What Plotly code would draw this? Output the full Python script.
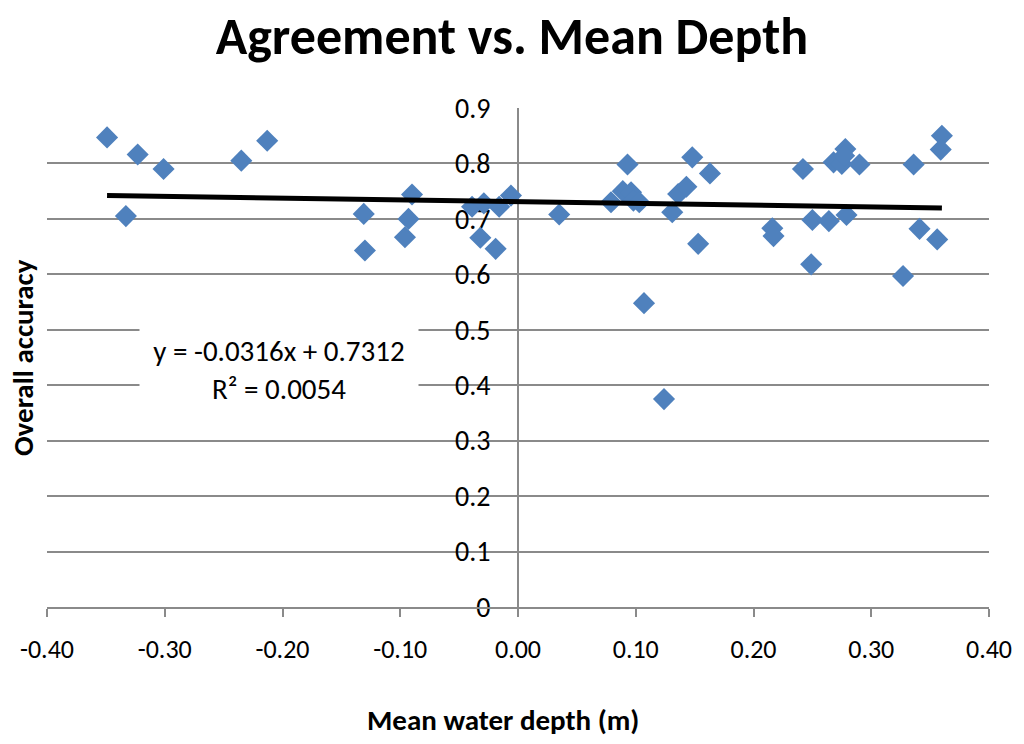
import plotly.graph_objects as go

# ── data ──────────────────────────────────────────────
depth = [
    -0.349, -0.323, -0.301, -0.333, -0.235, -0.213,
    -0.131, -0.130, -0.090, -0.093, -0.096,
    -0.039, -0.029, -0.032, -0.019, -0.016, -0.006, 0.035,
    0.093, 0.079, 0.089, 0.096, 0.098, 0.103, 0.107, 0.124,
    0.131, 0.136, 0.143, 0.148, 0.163, 0.153,
    0.216, 0.217, 0.242, 0.250, 0.249, 0.264, 0.268, 0.275,
    0.278, 0.277, 0.279, 0.290, 0.327, 0.336, 0.341, 0.356,
    0.360, 0.359,
]
accuracy = [
    0.847, 0.816, 0.790, 0.705, 0.805, 0.841,
    0.709, 0.643, 0.744, 0.700, 0.667,
    0.722, 0.728, 0.666, 0.646, 0.722, 0.742, 0.708,
    0.798, 0.730, 0.750, 0.748, 0.733, 0.730, 0.548, 0.375,
    0.712, 0.745, 0.758, 0.811, 0.782, 0.655,
    0.683, 0.669, 0.790, 0.698, 0.618, 0.696, 0.802, 0.799,
    0.826, 0.814, 0.707, 0.798, 0.597, 0.798, 0.682, 0.663,
    0.850, 0.825,
]
trend_slope = -0.0316
trend_intercept = 0.7312
r_squared = 0.0054

x_ticks = [-0.4, -0.3, -0.2, -0.1, 0.0, 0.1, 0.2, 0.3, 0.4]
x_ticktext = ["-0.40", "-0.30", "-0.20", "-0.10", "0.00", "0.10", "0.20", "0.30", "0.40"]
y_ticks = [0, 0.1, 0.2, 0.3, 0.4, 0.5, 0.6, 0.7, 0.8, 0.9]
y_ticktext = ["0", "0.1", "0.2", "0.3", "0.4", "0.5", "0.6", "0.7", "0.8", "0.9"]

FONT = "Carlito, Lato, sans-serif"
BLUE = "#4F81BD"
GRID = "#8a8a8a"

# ── trendline from the fitted coefficients ────────────
trend_x = [min(depth), max(depth)]
trend_y = [trend_slope * v + trend_intercept for v in trend_x]

fig = go.Figure()

fig.add_trace(go.Scatter(
    x=depth, y=accuracy,
    mode="markers",
    marker=dict(symbol="diamond", size=17, color=BLUE, line=dict(width=0)),
    showlegend=False,
))

fig.add_trace(go.Scatter(
    x=trend_x, y=trend_y,
    mode="lines",
    line=dict(color="black", width=5),
    showlegend=False,
))

# ── axes ──────────────────────────────────────────────
fig.update_xaxes(
    range=[-0.4, 0.4],
    tickvals=x_ticks,
    ticktext=x_ticktext,
    showgrid=False,
    zeroline=False,
    showline=True,
    linecolor=GRID,
    linewidth=2,
    ticks="outside",
    ticklen=8,
    tickwidth=2,
    tickcolor=GRID,
    ticklabelstandoff=10,
    tickfont=dict(family=FONT, size=26, color="black"),
)
fig.update_yaxes(
    range=[0, 0.9],
    tickvals=y_ticks,
    ticktext=y_ticktext,
    anchor="free",
    position=0.5,
    showgrid=True,
    gridcolor=GRID,
    gridwidth=2,
    zeroline=False,
    showline=True,
    linecolor=GRID,
    linewidth=2,
    ticks="",
    ticklabelstandoff=21,
    layer="below traces",
    tickfont=dict(family=FONT, size=28, color="black"),
)

# ── labels ────────────────────────────────────────────
fig.add_annotation(
    text=f"y = {trend_slope}x + {trend_intercept}<br>R² = {r_squared}",
    xref="paper", yref="paper", x=0.2458, y=0.475,
    xanchor="center", yanchor="middle",
    showarrow=False, align="center",
    width=276, height=90, bgcolor="white",
    font=dict(family=FONT, size=29, color="black"),
)
fig.add_annotation(
    text="<b>Overall accuracy</b>",
    xref="paper", yref="paper", x=-0.026, y=0.5,
    xanchor="center", yanchor="middle",
    textangle=-90, showarrow=False,
    font=dict(family=FONT, size=29, color="black"),
)
fig.add_annotation(
    text="<b>Mean water depth (m)</b>",
    xref="paper", yref="paper", x=0.484, y=-0.2265,
    xanchor="center", yanchor="middle",
    showarrow=False,
    font=dict(family=FONT, size=29, color="black"),
)

# page body has an 8px margin, so the canvas is 8px smaller
fig.update_layout(
    width=1016,
    height=736,
    margin=dict(l=34, r=34, t=100, b=137),
    paper_bgcolor="white",
    plot_bgcolor="white",
    title=dict(
        text="<b>Agreement vs. Mean Depth</b>",
        x=0.496, xanchor="center",
        y=0.962, yanchor="middle",
        font=dict(family=FONT, size=52, color="black"),
    ),
)

fig.write_html("out.html")
